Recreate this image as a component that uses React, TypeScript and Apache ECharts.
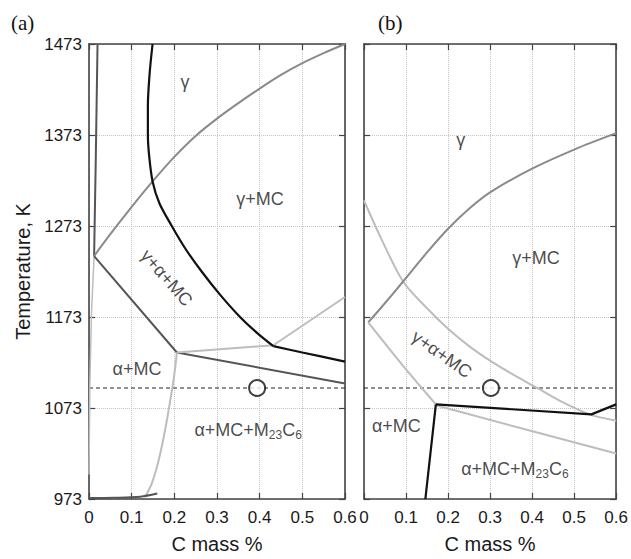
import React, { useEffect, useRef } from "react";
import * as echarts from "echarts";

// ---- axes ----
const xMin = 0;
const xMax = 0.6;
const xStep = 0.1;
const yMin = 973;
const yMax = 1473;
const yStep = 100;

// ---- panel (a) phase boundaries [C mass %, K] ----
const aGammaBoundary = [
  [0.149, 1473], [0.142, 1440], [0.138, 1405], [0.138, 1373], [0.141, 1350],
  [0.149, 1322], [0.165, 1298], [0.194, 1273], [0.226, 1248], [0.264, 1223],
  [0.308, 1197], [0.354, 1173], [0.395, 1155], [0.432, 1141],
];
const aGammaLower = [[0.432, 1141], [0.5, 1134], [0.6, 1124]];
const aMCSolvus = [
  [0.012, 1240], [0.05, 1264], [0.1, 1294], [0.149, 1322], [0.2, 1349],
  [0.25, 1372], [0.3, 1391], [0.35, 1408], [0.4, 1424], [0.45, 1439],
  [0.5, 1452], [0.55, 1463], [0.6, 1473],
];
const aLeftUpper = [[0.02, 1473], [0.016, 1350], [0.012, 1240]];
const aLeftLower = [[0.012, 1240], [0.006, 1180], [0.002, 1100], [0, 1000]];
const aAlphaUpper = [[0.012, 1240], [0.206, 1134]];
const aM23Upper = [[0.206, 1134], [0.6, 1100]];
const aLightUpper = [[0.206, 1134], [0.432, 1142], [0.6, 1195]];
const aLightLeft = [
  [0.206, 1134], [0.2, 1110], [0.19, 1080], [0.178, 1048], [0.163, 1015],
  [0.147, 990], [0.131, 975],
];
const aBottom = [[0, 974], [0.06, 974.3], [0.12, 975.5], [0.16, 979]];

// ---- panel (b) phase boundaries ----
const bMCSolvus = [
  [0.01, 1167], [0.042, 1184], [0.093, 1212], [0.15, 1244], [0.2, 1270],
  [0.25, 1292], [0.3, 1310], [0.4, 1336], [0.5, 1357], [0.6, 1375],
];
const bLightUpper = [
  [0, 1301], [0.04, 1260], [0.093, 1212], [0.147, 1184], [0.2, 1160],
  [0.25, 1141], [0.3, 1125], [0.35, 1111], [0.412, 1095], [0.47, 1080],
  [0.537, 1066], [0.6, 1059],
];
const bAlphaUpper = [[0.01, 1167], [0.09, 1121], [0.171, 1077]];
const bBlackHoriz = [[0.171, 1077], [0.541, 1066], [0.6, 1077]];
const bBlackVert = [[0.171, 1077], [0.146, 973]];
const bLightLower = [[0.171, 1076], [0.412, 1046], [0.6, 1023]];

// ---- reference temperature & alloy points ----
const refTemp = 1095;
const aDashed = [[0, refTemp], [0.645, refTemp]];
const bDashed = [[0, refTemp], [0.6, refTemp]];
const aPoint = [[0.394, refTemp]];
const bPoint = [[0.302, refTemp]];

// ---- phase-field labels ----
const M23 = "{n|α+MC+M}{s|23}{n|C}{s|6}";
const aLabels = [
  { text: "γ", x: 0.225, y: 1431, rotate: 0 },
  { text: "γ+MC", x: 0.401, y: 1303, rotate: 0 },
  { text: "γ+α+MC", x: 0.182, y: 1216, rotate: -49 },
  { text: "α+MC", x: 0.1125, y: 1116, rotate: 0 },
  { text: M23, x: 0.373, y: 1049, rotate: 0 },
];
const bLabels = [
  { text: "γ", x: 0.23, y: 1368, rotate: 0 },
  { text: "γ+MC", x: 0.409, y: 1238, rotate: 0 },
  { text: "γ+α+MC", x: 0.185, y: 1132, rotate: -35 },
  { text: "α+MC", x: 0.077, y: 1053, rotate: 0 },
  { text: M23, x: 0.359, y: 1006, rotate: 0 },
];

const FONT = "'Liberation Sans', Arial, sans-serif";
const SERIF = "'Liberation Serif', 'Times New Roman', serif";
const BLACK = "#111";
const DARK = "#555";
const MID = "#8a8a8a";
const LIGHT = "#bdbdbd";
const TEXT = "#1a1a1a";

function App() {
  const ref = useRef<HTMLDivElement>(null);
  useEffect(() => {
    if (!ref.current) return;
    const chart = echarts.init(ref.current, null, { renderer: "svg" });

    const mkX = (gridIndex: number, position: string, main: boolean) => ({
      type: "value",
      gridIndex,
      position,
      min: xMin,
      max: xMax,
      interval: xStep,
      name: main ? "C mass %" : "",
      nameLocation: "middle",
      nameGap: 35,
      nameTextStyle: { fontFamily: FONT, fontSize: 20, color: TEXT },
      axisLine: { show: true, onZero: false, lineStyle: { color: "#444", width: 1.6 } },
      axisTick: { show: true, inside: true, length: 6, lineStyle: { color: "#444", width: 1.2 } },
      axisLabel: {
        show: main,
        margin: 10,
        fontFamily: FONT,
        fontSize: 17,
        color: TEXT,
        formatter: (v: number) => (v === 0 ? "0" : v.toFixed(1)),
      },
      splitLine: { show: main, lineStyle: { type: "dotted", color: "#c4c4c4", width: 1 } },
    });
    const mkY = (gridIndex: number, position: string, main: boolean, labels: boolean) => ({
      type: "value",
      gridIndex,
      position,
      min: yMin,
      max: yMax,
      interval: yStep,
      name: labels ? "Temperature, K" : "",
      nameLocation: "middle",
      nameGap: 56,
      nameTextStyle: { fontFamily: FONT, fontSize: 20, color: TEXT },
      axisLine: { show: true, onZero: false, lineStyle: { color: "#444", width: 1.6 } },
      axisTick: { show: true, inside: true, length: 6, lineStyle: { color: "#444", width: 1.2 } },
      axisLabel: {
        show: labels,
        margin: 7,
        fontFamily: FONT,
        fontSize: 17,
        color: TEXT,
        formatter: (v: number) => String(Math.round(v)),
      },
      splitLine: { show: main, lineStyle: { type: "dotted", color: "#c4c4c4", width: 1 } },
    });

    const line = (g: number, data: number[][], color: string, width: number, smooth: number | boolean = false) => ({
      type: "line",
      xAxisIndex: g * 2,
      yAxisIndex: g * 2,
      data,
      symbol: "none",
      smooth,
      silent: true,
      lineStyle: { color, width },
      z: 3,
    });

    const labelSeries = (g: number, items: typeof aLabels) => ({
      type: "scatter",
      xAxisIndex: g * 2,
      yAxisIndex: g * 2,
      symbolSize: 1,
      silent: true,
      itemStyle: { color: "rgba(0,0,0,0)" },
      z: 5,
      data: items.map((it) => ({
        value: [it.x, it.y],
        label: {
          show: true,
          position: "inside",
          formatter: it.text,
          rotate: it.rotate,
        },
      })),
      label: {
        show: true,
        position: "inside",
        fontFamily: FONT,
        fontSize: 18,
        color: TEXT,
        rich: {
          n: { fontFamily: FONT, fontSize: 18, color: TEXT, lineHeight: 22 },
          s: { fontFamily: FONT, fontSize: 12, color: TEXT, lineHeight: 18, verticalAlign: "bottom" },
        },
      },
    });

    const dashed = (g: number, data: number[][]) => ({
      type: "line",
      xAxisIndex: g * 2,
      yAxisIndex: g * 2,
      data,
      symbol: "none",
      clip: false,
      silent: true,
      lineStyle: { color: "#222", width: 1.1, type: [4, 3] },
      z: 2,
    });

    const point = (g: number, data: number[][]) => ({
      type: "scatter",
      xAxisIndex: g * 2,
      yAxisIndex: g * 2,
      data,
      symbol: "circle",
      symbolSize: 16,
      silent: true,
      itemStyle: { color: "#fff", borderColor: "#111", borderWidth: 2 },
      z: 6,
    });

    const option = {
      animation: false,
      backgroundColor: "#fff",
      title: [
        { text: "(a)", left: 6, top: 7, textStyle: { fontFamily: SERIF, fontSize: 21, fontWeight: "normal", color: "#111" } },
        { text: "(b)", left: 373, top: 7, textStyle: { fontFamily: SERIF, fontSize: 21, fontWeight: "normal", color: "#111" } },
      ],
      grid: [
        { left: 89, top: 44, width: 256, height: 459, containLabel: false },
        { left: 364, top: 44, width: 256, height: 459, containLabel: false },
      ],
      xAxis: [mkX(0, "bottom", true), mkX(0, "top", false), mkX(1, "bottom", true), mkX(1, "top", false)],
      yAxis: [mkY(0, "left", true, true), mkY(0, "right", false, false), mkY(1, "left", true, false), mkY(1, "right", false, false)],
      series: [
        dashed(0, aDashed),
        dashed(1, bDashed),
        line(0, aLeftLower, LIGHT, 1.5),
        line(0, aLeftUpper, DARK, 2),
        line(0, aMCSolvus, MID, 2, 0.3),
        line(0, aAlphaUpper, DARK, 2),
        line(0, aM23Upper, DARK, 2),
        line(0, aLightUpper, LIGHT, 2),
        line(0, aLightLeft, LIGHT, 2, 0.3),
        line(0, aBottom, DARK, 2, 0.3),
        line(0, aGammaBoundary, BLACK, 2.2, 0.3),
        line(0, aGammaLower, BLACK, 2.2, 0.3),
        line(1, bLightUpper, LIGHT, 2, 0.3),
        line(1, bMCSolvus, MID, 2, 0.3),
        line(1, bAlphaUpper, LIGHT, 2, 0.3),
        line(1, bLightLower, LIGHT, 2),
        line(1, bBlackHoriz, BLACK, 2.2),
        line(1, bBlackVert, BLACK, 2.2),
        point(0, aPoint),
        point(1, bPoint),
        labelSeries(0, aLabels),
        labelSeries(1, bLabels),
      ],
    };
    chart.setOption(option as any);
    return () => chart.dispose();
  }, []);

  return (
    <div
      ref={ref}
      style={{ position: "absolute", left: 0, top: 0, width: 631, height: 559, background: "#fff" }}
    />
  );
}

export default App;
